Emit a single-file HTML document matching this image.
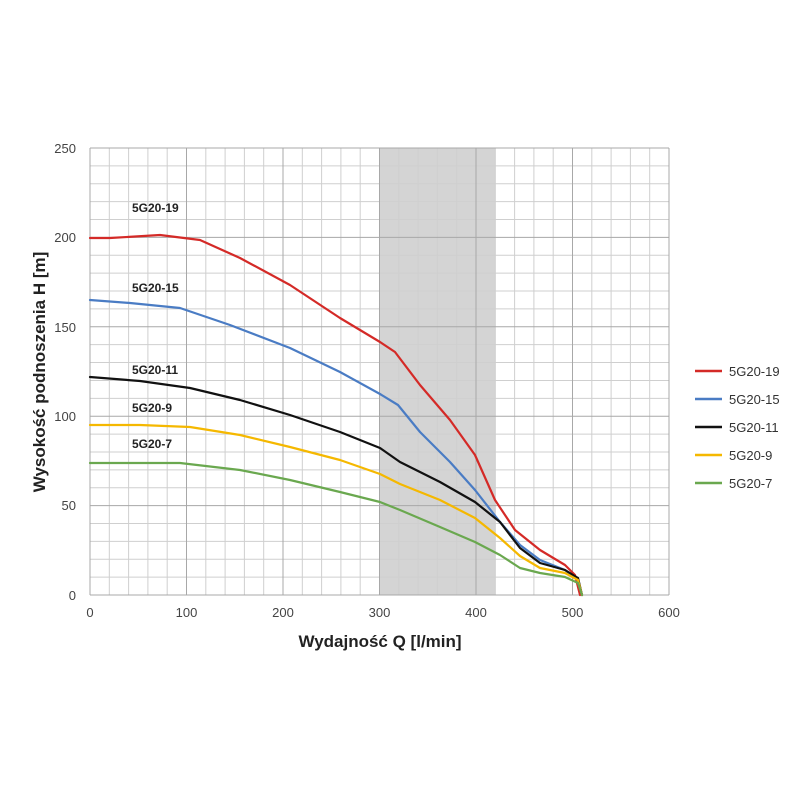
<!DOCTYPE html>
<html><head><meta charset="utf-8"><style>
body{margin:0;background:#fff;}
svg{display:block;font-family:"Liberation Sans",sans-serif;}
</style></head><body>
<svg width="800" height="800" viewBox="0 0 800 800">
<rect x="379.5" y="148" width="115.8" height="447" fill="#d4d4d4"/>
<path fill="none" stroke="#cfcfcf" stroke-width="1" d="M109.3 148V595M128.6 148V595M147.9 148V595M167.2 148V595M205.8 148V595M225.1 148V595M244.4 148V595M263.7 148V595M302.3 148V595M321.6 148V595M340.9 148V595M360.2 148V595M398.8 148V595M418.1 148V595M437.4 148V595M456.7 148V595M495.3 148V595M514.6 148V595M533.9 148V595M553.2 148V595M591.8 148V595M611.1 148V595M630.4 148V595M649.7 148V595
M90 577.12H669M90 559.24H669M90 541.36H669M90 523.48H669M90 487.72H669M90 469.84H669M90 451.96H669M90 434.08H669M90 398.32H669M90 380.44H669M90 362.56H669M90 344.68H669M90 308.92H669M90 291.04H669M90 273.16H669M90 255.28H669M90 219.52H669M90 201.64H669M90 183.76H669M90 165.88H669"/>
<path fill="none" stroke="#a8a8a8" stroke-width="1" d="M90 148V595M186.5 148V595M283 148V595M379.5 148V595M476 148V595M572.5 148V595M669 148V595M90 595H669M90 505.6H669M90 416.2H669M90 326.8H669M90 237.4H669M90 148H669"/>
<g fill="#444" font-size="13" text-anchor="end">
<text x="76" y="153">250</text><text x="76" y="242">200</text><text x="76" y="332">150</text>
<text x="76" y="421">100</text><text x="76" y="510">50</text><text x="76" y="600">0</text>
</g>
<g fill="#444" font-size="13" text-anchor="middle">
<text x="90" y="617">0</text><text x="186.5" y="617">100</text><text x="283" y="617">200</text>
<text x="379.5" y="617">300</text><text x="476" y="617">400</text><text x="572.5" y="617">500</text><text x="669" y="617">600</text>
</g>
<text x="380" y="647" font-size="17" font-weight="bold" text-anchor="middle" fill="#222">Wydajność Q [l/min]</text>
<text transform="translate(45,372) rotate(-90)" font-size="17" font-weight="bold" text-anchor="middle" fill="#222">Wysokość podnoszenia H [m]</text>
<g font-size="12" font-weight="bold" fill="#222">
<text x="132" y="212">5G20-19</text><text x="132" y="292">5G20-15</text><text x="132" y="374">5G20-11</text>
<text x="132" y="412">5G20-9</text><text x="132" y="448">5G20-7</text>
</g>
<g fill="none" stroke-width="2.2" stroke-linejoin="round" stroke-linecap="round">
<polyline stroke="#d42a27" points="90,238 110,238 160,235 200,240 240,258 290,285 340,318 380,342 395,352 420,385 450,420 475,455 495,500 515,530 540,550 565,565 575,575 580,595"/>
<polyline stroke="#4a7cc4" points="90,300 130,303 180,308 230,325 290,348 340,372 380,394 398,405 420,432 450,462 475,490 500,522 520,545 540,560 565,570 578,580 582,595"/>
<polyline stroke="#111" points="90,377 140,381 190,388 240,400 290,415 340,432 380,448 400,462 440,482 475,502 500,522 520,548 540,563 565,570 578,578 582,595"/>
<polyline stroke="#f5b800" points="90,425 140,425 190,427 240,435 290,447 340,460 380,474 400,484 440,500 475,518 500,538 520,556 540,568 565,573 578,580 582,595"/>
<polyline stroke="#6aa84f" points="90,463 130,463 180,463 240,470 290,480 340,492 380,502 400,510 440,527 475,542 500,555 520,568 540,573 565,577 578,583 582,595"/>
</g>
<g stroke-width="2.5">
<line x1="695" y1="371" x2="722" y2="371" stroke="#d42a27"/>
<line x1="695" y1="399" x2="722" y2="399" stroke="#4a7cc4"/>
<line x1="695" y1="427" x2="722" y2="427" stroke="#111"/>
<line x1="695" y1="455" x2="722" y2="455" stroke="#f5b800"/>
<line x1="695" y1="483" x2="722" y2="483" stroke="#6aa84f"/>
</g>
<g font-size="13" fill="#333">
<text x="729" y="376">5G20-19</text><text x="729" y="404">5G20-15</text><text x="729" y="432">5G20-11</text>
<text x="729" y="460">5G20-9</text><text x="729" y="488">5G20-7</text>
</g>
</svg>
</body></html>
